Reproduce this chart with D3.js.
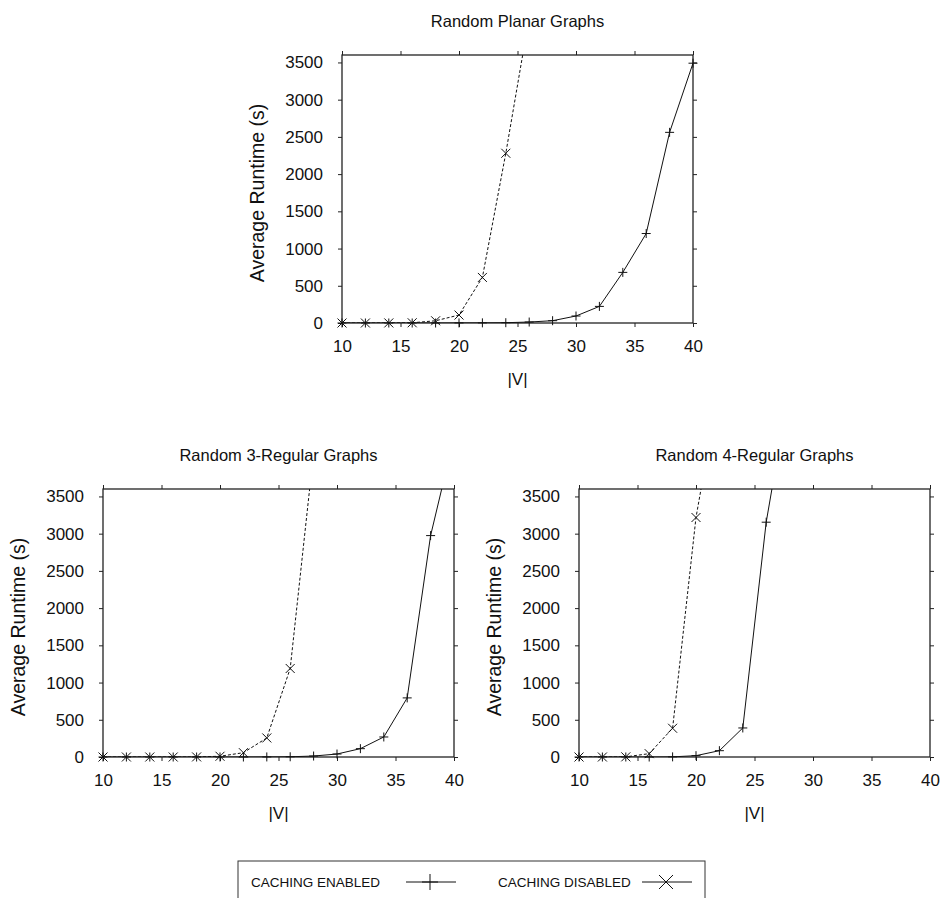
<!DOCTYPE html>
<html>
<head>
<meta charset="utf-8">
<script src="https://cdn.jsdelivr.net/npm/d3@7"></script>
<style>
  body { margin: 0; background: #fff; }
  text { font-family: "Liberation Sans", Arial, sans-serif; fill: #111; }
</style>
</head>
<body>
<div id="chart"></div>
<script>
// |V| values and average runtimes (s)
var vertices = [10, 12, 14, 16, 18, 20, 22, 24, 26, 28, 30, 32, 34, 36, 38, 40];

var planarEnabled = [0, 0, 0, 0, 0, 1, 2, 4, 13, 31, 94, 223, 680, 1202, 2561, 3490];
var planarDisabled = [0, 0, 1, 3, 30, 107, 612, 2280, 4110];

var reg3Enabled = [0, 0, 0, 0, 0, 0, 0, 1, 3, 13, 40, 112, 269, 794, 2974, 4292];
var reg3Disabled = [0, 0, 0, 0, 1, 10, 58, 256, 1189, 4093];

var reg4Enabled = [0, 0, 0, 0, 2, 18, 85, 390, 3154, 4974];
var reg4Disabled = [0, 0, 2, 45, 386, 3217, 4997];

var xTicks = [10, 15, 20, 25, 30, 35, 40];
var yTicks = [0, 500, 1000, 1500, 2000, 2500, 3000, 3500];

var titles = ["Random Planar Graphs", "Random 3-Regular Graphs", "Random 4-Regular Graphs"];
var legendLabels = ["CACHING ENABLED", "CACHING DISABLED"];

var svgWidth = 945;
var svgHeight = 898;

var svg = d3
  .select("#chart")
  .append("svg")
  .attr("width", svgWidth)
  .attr("height", svgHeight);

var panels = [
  { title: titles[0], left: 342, top: 55, enabled: planarEnabled, disabled: planarDisabled },
  { title: titles[1], left: 103, top: 489, enabled: reg3Enabled, disabled: reg3Disabled },
  { title: titles[2], left: 579, top: 489, enabled: reg4Enabled, disabled: reg4Disabled },
];

var plotW = 351;
var plotH = 268;

function toPoints(values) {
  return values.map(function (v, i) {
    return { x: vertices[i], y: v };
  });
}

function plusPath(s) {
  return `M${-s},0H${s}M0,${-s}V${s}`;
}

function crossPath(s) {
  return `M${-s},${-s}L${s},${s}M${-s},${s}L${s},${-s}`;
}

panels.forEach(function (p, idx) {
  var xScale = d3.scaleLinear().domain([10, 40]).range([0, plotW]);
  var yScale = d3.scaleLinear().domain([0, 3600]).range([plotH, 0]);

  var g = svg.append("g").attr("transform", `translate(${p.left}, ${p.top})`);

  var clipId = "clip" + idx;
  g.append("clipPath")
    .attr("id", clipId)
    .append("rect")
    .attr("width", plotW)
    .attr("height", plotH);

  var axisStyle = function (sel) {
    sel.select(".domain").remove();
    sel.selectAll(".tick line").attr("stroke", "#222").attr("stroke-width", 1);
    sel.selectAll(".tick text")
      .style("font-size", "17px")
      .style("font-family", "'Liberation Sans', Arial, sans-serif")
      .attr("fill", "#111");
  };

  g.append("g")
    .attr("transform", `translate(0, ${plotH})`)
    .call(d3.axisBottom(xScale).tickValues(xTicks).tickSize(4).tickPadding(13).tickFormat(d3.format("d")))
    .call(axisStyle);

  g.append("g")
    .call(d3.axisTop(xScale).tickValues(xTicks).tickSize(4).tickFormat(""))
    .call(axisStyle);

  g.append("g")
    .call(d3.axisLeft(yScale).tickValues(yTicks).tickSize(4).tickPadding(15).tickFormat(d3.format("d")))
    .call(axisStyle);

  g.append("g")
    .attr("transform", `translate(${plotW}, 0)`)
    .call(d3.axisRight(yScale).tickValues(yTicks).tickSize(4).tickFormat(""))
    .call(axisStyle);

  g.append("rect")
    .attr("width", plotW)
    .attr("height", plotH)
    .attr("fill", "none")
    .attr("stroke", "#222")
    .attr("stroke-width", 1.3);

  var line = d3
    .line()
    .x((d) => xScale(d.x))
    .y((d) => yScale(d.y));

  var series = [
    { pts: toPoints(p.enabled), dash: null, marker: plusPath },
    { pts: toPoints(p.disabled), dash: "3,2", marker: crossPath },
  ];

  series.forEach(function (s) {
    g.append("path")
      .datum(s.pts)
      .attr("clip-path", `url(#${clipId})`)
      .attr("d", line)
      .attr("fill", "none")
      .attr("stroke", "#111")
      .attr("stroke-width", 1)
      .attr("stroke-dasharray", s.dash);

    g.selectAll(null)
      .data(s.pts.filter((d) => d.y <= 3600))
      .enter()
      .append("path")
      .attr("transform", (d) => `translate(${xScale(d.x)}, ${yScale(d.y)})`)
      .attr("d", s.marker(4.5))
      .attr("fill", "none")
      .attr("stroke", "#111")
      .attr("stroke-width", 1);
  });

  g.append("text")
    .attr("x", plotW / 2)
    .attr("y", -28)
    .attr("text-anchor", "middle")
    .style("font-size", "16.5px")
    .text(p.title);

  g.append("text")
    .attr("x", plotW / 2)
    .attr("y", plotH + 62)
    .attr("text-anchor", "middle")
    .style("font-size", "17px")
    .text("|V|");

  g.append("text")
    .attr("transform", `translate(-78, ${plotH / 2 + 4}) rotate(-90)`)
    .attr("text-anchor", "middle")
    .style("font-size", "19.5px")
    .text("Average Runtime (s)");
});

// legend
var legend = svg.append("g").attr("transform", "translate(238, 861)");

legend
  .append("rect")
  .attr("width", 467)
  .attr("height", 60)
  .attr("fill", "none")
  .attr("stroke", "#333")
  .attr("stroke-width", 1);

var legendItems = [
  { label: legendLabels[0], tx: 13, lx: 168, marker: plusPath(8) },
  { label: legendLabels[1], tx: 260, lx: 404, marker: crossPath(7) },
];

legendItems.forEach(function (item) {
  legend
    .append("text")
    .attr("x", item.tx)
    .attr("y", 26)
    .style("font-size", "13.5px")
    .text(item.label);

  legend
    .append("line")
    .attr("x1", item.lx)
    .attr("x2", item.lx + 50)
    .attr("y1", 21)
    .attr("y2", 21)
    .attr("stroke", "#111")
    .attr("stroke-width", 1);

  legend
    .append("path")
    .attr("transform", `translate(${item.lx + 24}, 21)`)
    .attr("d", item.marker)
    .attr("fill", "none")
    .attr("stroke", "#111")
    .attr("stroke-width", 1);
});
</script>
</body>
</html>
